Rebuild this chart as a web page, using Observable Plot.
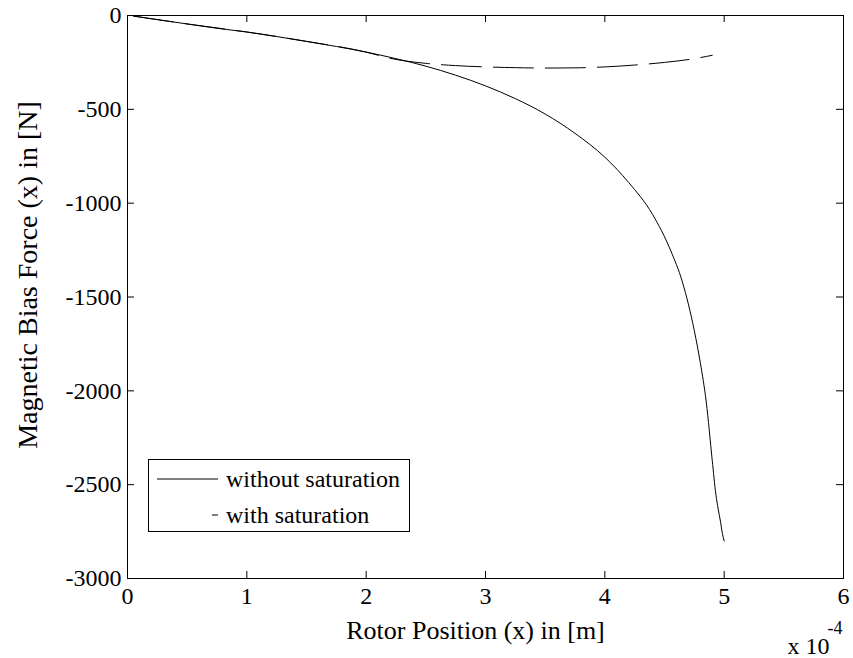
<!DOCTYPE html>
<html><head><meta charset="utf-8">
<script src="https://cdn.jsdelivr.net/npm/d3@7"></script>
<script src="https://cdn.jsdelivr.net/npm/@observablehq/plot@0.6"></script>
<style>
body{margin:0;background:#fff;}
#wrap{position:relative;width:853px;height:658px;font-family:"Liberation Serif","Times New Roman",serif;}
#legend{position:absolute;left:148px;top:459px;}
</style></head><body><div id="wrap"></div>
<script>
const xTicks = [0, 1, 2, 3, 4, 5, 6];
const yTicks = [0, -500, -1000, -1500, -2000, -2500, -3000];
const xLabel = "Rotor Position (x) in [m]";
const yLabel = "Magnetic Bias Force (x) in [N]";
const xScaleText = "x 10";
const xScaleExp = "-4";
const seriesNames = ["without saturation", "with saturation"];

// Rotor position in units of 1e-4 m
const posNoSat = [0.05, 0.25, 0.5, 0.75, 1.0, 1.25, 1.5, 1.75, 2.0, 2.25, 2.5, 2.75, 3.0, 3.25, 3.5, 3.75, 4.0, 4.2, 4.4, 4.55, 4.65, 4.75, 4.8, 4.85, 4.9, 4.93, 4.95, 4.97, 4.985, 5.0];
const forceNoSat = [-3, -22, -45, -68, -88, -112, -138, -165, -195, -230, -270, -318, -375, -443, -525, -628, -755, -890, -1060, -1250, -1420, -1680, -1850, -2060, -2370, -2550, -2630, -2700, -2760, -2800];

const posSat = [0.05, 0.5, 1.0, 1.5, 2.0, 2.2, 2.5, 2.75, 3.0, 3.25, 3.5, 3.75, 4.0, 4.25, 4.5, 4.75, 4.9];
const forceSat = [-3, -45, -88, -138, -195, -228, -255, -267, -274, -278, -280, -279, -274, -264, -250, -230, -212];

const noSat = posNoSat.map((x, i) => ({x, y: forceNoSat[i]}));
const sat = posSat.map((x, i) => ({x, y: forceSat[i]}));

const W = 853, H = 658, mL = 127, mR = 10, mT = 15, mB = 80;
const ph = H - mT - mB, pw = W - mL - mR;
const tl = 7;

const chart = Plot.plot({
  width: W, height: H,
  marginLeft: mL, marginRight: mR, marginTop: mT, marginBottom: mB,
  style: {fontFamily: "Liberation Serif", fontSize: "24px", color: "#000", background: "#fff", overflow: "visible"},
  x: {domain: [0, 6]},
  y: {domain: [-3000, 0]},
  marks: [
    Plot.tickX(xTicks, {x: d => d, insetTop: ph - tl, stroke: "#000"}),
    Plot.tickX(xTicks, {x: d => d, insetBottom: ph - tl, stroke: "#000"}),
    Plot.tickY(yTicks, {y: d => d, insetRight: pw - tl, stroke: "#000"}),
    Plot.tickY(yTicks, {y: d => d, insetLeft: pw - tl, stroke: "#000"}),
    Plot.axisX(xTicks, {tickSize: 0, tickPadding: 8, tickFormat: d => String(d), label: null, fontSize: 24}),
    Plot.axisY(yTicks, {tickSize: 0, tickPadding: 6, tickFormat: d => String(d), label: null, fontSize: 24}),
    Plot.line(noSat, {x: "x", y: "y", stroke: "#000", strokeWidth: 1, curve: "monotone-x"}),
    Plot.line(sat, {x: "x", y: "y", stroke: "#000", strokeWidth: 1, strokeDasharray: "40,12", curve: "monotone-x"}),
    Plot.frame({stroke: "#000", strokeWidth: 1}),
    Plot.text([xLabel], {text: d => d, frameAnchor: "bottom", lineAnchor: "middle", textAnchor: "middle", dx: -10, dy: 52, fontSize: 26}),
    Plot.text([yLabel], {text: d => d, frameAnchor: "left", lineAnchor: "middle", textAnchor: "middle", dx: -99, dy: -22, rotate: -90, fontSize: 28}),
    Plot.text([xScaleText], {text: d => d, frameAnchor: "bottom-right", lineAnchor: "middle", textAnchor: "end", dx: -14, dy: 68, fontSize: 24}),
    Plot.text([xScaleExp], {text: d => d, frameAnchor: "bottom-right", lineAnchor: "middle", textAnchor: "start", dx: -16, dy: 50, fontSize: 18})
  ]
});
document.getElementById("wrap").appendChild(chart);

// Legend
const lg = d3.select("#wrap").append("svg").attr("id", "legend")
  .attr("width", 263).attr("height", 74)
  .style("font-family", "Liberation Serif").style("font-size", "24px");
lg.append("rect").attr("x", 0.5).attr("y", 0.5).attr("width", 261).attr("height", 72)
  .attr("fill", "#fff").attr("stroke", "#000");
const rows = [{name: seriesNames[0], dash: null}, {name: seriesNames[1], dash: "6,55"}];
rows.forEach((r, i) => {
  const cy = 20 + i * 36;
  const ln = lg.append("line").attr("x1", 9).attr("x2", 70).attr("y1", cy).attr("y2", cy)
    .attr("stroke", "#000").attr("stroke-width", 1);
  if (r.dash) ln.attr("x1", 70).attr("x2", 9).attr("stroke-dasharray", r.dash);
  lg.append("text").attr("x", 78).attr("y", cy).attr("dy", "0.32em").text(r.name);
});
</script>
</body></html>
